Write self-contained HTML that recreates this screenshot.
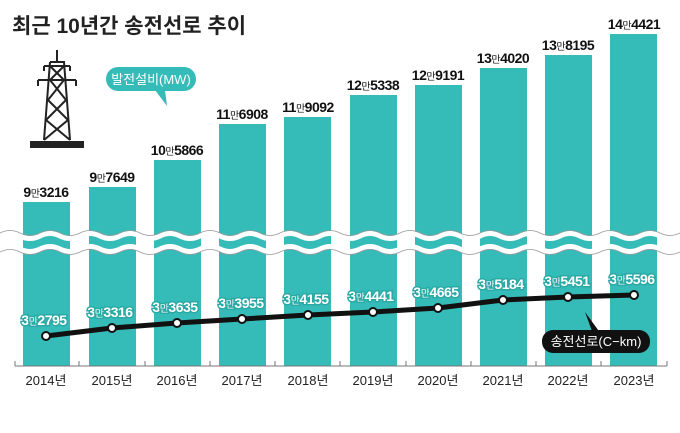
<!DOCTYPE html><html><head><meta charset="utf-8"><style>
body{margin:0;background:#fff}
svg text{font-family:"Liberation Sans","Noto Sans CJK KR",sans-serif}
</style></head><body>
<svg width="680" height="428" viewBox="0 0 680 428" xmlns="http://www.w3.org/2000/svg">
<rect width="680" height="428" fill="#fff"/>
<text x="12" y="33" font-size="21" font-weight="bold" fill="#222">최근 10년간 송전선로 추이</text>
<!-- tower -->
<g stroke="#222" stroke-width="2" fill="none">
<line x1="57" y1="50" x2="57" y2="62"/>
<path d="M50 62 L64 62 L70 140 M50 62 L44 140"/>
<path d="M44 66 L70 66 M38 80 L76 80"/>
<path d="M50 66 L64 80 M64 66 L50 80 M50 80 L66 100 M64 80 L48 100 M48 100 L68 120 M66 100 L46 120 M46 120 L70 140 M68 120 L44 140"/>
<line x1="44" y1="66" x2="44" y2="71"/><line x1="70" y1="66" x2="70" y2="71"/>
<line x1="38" y1="80" x2="38" y2="86"/><line x1="76" y1="80" x2="76" y2="86"/>
</g>
<rect x="30" y="141" width="54" height="7" fill="#222"/>
<!-- bars -->
<g fill="#36bcb8">
<rect x="23" y="202" width="47" height="164"/>
<rect x="89" y="187" width="47" height="179"/>
<rect x="154" y="160" width="47" height="206"/>
<rect x="219" y="124" width="47" height="242"/>
<rect x="284" y="117" width="47" height="249"/>
<rect x="350" y="95" width="47" height="271"/>
<rect x="415" y="85" width="47" height="281"/>
<rect x="480" y="68" width="47" height="298"/>
<rect x="545" y="55" width="47" height="311"/>
<rect x="610" y="34" width="47" height="332"/>
</g>
<g font-size="14" font-weight="bold" fill="#111" text-anchor="middle" letter-spacing="-0.5">
<text x="46" y="197">9<tspan font-size="10" font-weight="normal">만</tspan>3216</text>
<text x="112" y="182">9<tspan font-size="10" font-weight="normal">만</tspan>7649</text>
<text x="177" y="155">10<tspan font-size="10" font-weight="normal">만</tspan>5866</text>
<text x="242" y="119">11<tspan font-size="10" font-weight="normal">만</tspan>6908</text>
<text x="308" y="112">11<tspan font-size="10" font-weight="normal">만</tspan>9092</text>
<text x="373" y="90">12<tspan font-size="10" font-weight="normal">만</tspan>5338</text>
<text x="438" y="80">12<tspan font-size="10" font-weight="normal">만</tspan>9191</text>
<text x="503" y="63">13<tspan font-size="10" font-weight="normal">만</tspan>4020</text>
<text x="568" y="50">13<tspan font-size="10" font-weight="normal">만</tspan>8195</text>
<text x="634" y="29">14<tspan font-size="10" font-weight="normal">만</tspan>4421</text>
</g>
<!-- bubble -->
<rect x="106" y="67" width="90" height="24" rx="12" fill="#36bcb8"/>
<path d="M155 90 L167 106 L165 90 Z" fill="#36bcb8"/>
<text x="151" y="84" font-size="13" fill="#fff" text-anchor="middle">발전설비(MW)</text>
<!-- break -->
<g fill="none" stroke-linecap="round">
<path d="M0 236 q10 -5 20 0 t20 0 t20 0 t20 0 t20 0 t20 0 t20 0 t20 0 t20 0 t20 0 t20 0 t20 0 t20 0 t20 0 t20 0 t20 0 t20 0 t20 0 t20 0 t20 0 t20 0 t20 0 t20 0 t20 0 t20 0 t20 0 t20 0 t20 0 t20 0 t20 0 t20 0 t20 0 t20 0 t20 0" stroke="#fff" stroke-width="5"/>
<path d="M0 249 q10 -5 20 0 t20 0 t20 0 t20 0 t20 0 t20 0 t20 0 t20 0 t20 0 t20 0 t20 0 t20 0 t20 0 t20 0 t20 0 t20 0 t20 0 t20 0 t20 0 t20 0 t20 0 t20 0 t20 0 t20 0 t20 0 t20 0 t20 0 t20 0 t20 0 t20 0 t20 0 t20 0 t20 0 t20 0" stroke="#fff" stroke-width="5"/>
<path d="M0 233 q10 -5 20 0 t20 0 t20 0 t20 0 t20 0 t20 0 t20 0 t20 0 t20 0 t20 0 t20 0 t20 0 t20 0 t20 0 t20 0 t20 0 t20 0 t20 0 t20 0 t20 0 t20 0 t20 0 t20 0 t20 0 t20 0 t20 0 t20 0 t20 0 t20 0 t20 0 t20 0 t20 0 t20 0 t20 0" stroke="#999" stroke-width="0.7"/>
<path d="M0 252 q10 -5 20 0 t20 0 t20 0 t20 0 t20 0 t20 0 t20 0 t20 0 t20 0 t20 0 t20 0 t20 0 t20 0 t20 0 t20 0 t20 0 t20 0 t20 0 t20 0 t20 0 t20 0 t20 0 t20 0 t20 0 t20 0 t20 0 t20 0 t20 0 t20 0 t20 0 t20 0 t20 0 t20 0 t20 0" stroke="#999" stroke-width="0.7"/>
</g>
<!-- axis -->
<g stroke="#777" stroke-width="1">
<line x1="15" y1="366" x2="667" y2="366"/>
<line x1="15" y1="361" x2="15" y2="366"/><line x1="79" y1="361" x2="79" y2="366"/><line x1="145" y1="361" x2="145" y2="366"/><line x1="210" y1="361" x2="210" y2="366"/><line x1="275" y1="361" x2="275" y2="366"/><line x1="340" y1="361" x2="340" y2="366"/><line x1="406" y1="361" x2="406" y2="366"/><line x1="471" y1="361" x2="471" y2="366"/><line x1="536" y1="361" x2="536" y2="366"/><line x1="601" y1="361" x2="601" y2="366"/><line x1="667" y1="361" x2="667" y2="366"/>
</g>
<g font-size="13" fill="#222" text-anchor="middle">
<text x="46" y="385">2014년</text><text x="112" y="385">2015년</text><text x="177" y="385">2016년</text><text x="242" y="385">2017년</text><text x="308" y="385">2018년</text><text x="373" y="385">2019년</text><text x="438" y="385">2020년</text><text x="503" y="385">2021년</text><text x="568" y="385">2022년</text><text x="634" y="385">2023년</text>
</g>
<!-- line -->
<polyline points="46,336 112,328 177,323 242,319 308,315 373,312 438,308 503,300 568,297 634,295" fill="none" stroke="#111" stroke-width="5" stroke-linejoin="round"/>
<g fill="#fff" stroke="#111" stroke-width="2">
<circle cx="46" cy="336" r="4"/><circle cx="112" cy="328" r="4"/><circle cx="177" cy="323" r="4"/><circle cx="242" cy="319" r="4"/><circle cx="308" cy="315" r="4"/><circle cx="373" cy="312" r="4"/><circle cx="438" cy="308" r="4"/><circle cx="503" cy="300" r="4"/><circle cx="568" cy="297" r="4"/><circle cx="634" cy="295" r="4"/>
</g>
<g font-size="14" font-weight="bold" text-anchor="middle" letter-spacing="-0.5" fill="#fff" stroke="#2aa9a5" stroke-width="3" paint-order="stroke">
<text x="44" y="325">3<tspan font-size="10" font-weight="normal">만</tspan>2795</text>
<text x="110" y="317">3<tspan font-size="10" font-weight="normal">만</tspan>3316</text>
<text x="175" y="312">3<tspan font-size="10" font-weight="normal">만</tspan>3635</text>
<text x="241" y="308">3<tspan font-size="10" font-weight="normal">만</tspan>3955</text>
<text x="306" y="304">3<tspan font-size="10" font-weight="normal">만</tspan>4155</text>
<text x="371" y="301">3<tspan font-size="10" font-weight="normal">만</tspan>4441</text>
<text x="436" y="297">3<tspan font-size="10" font-weight="normal">만</tspan>4665</text>
<text x="501" y="289">3<tspan font-size="10" font-weight="normal">만</tspan>5184</text>
<text x="567" y="286">3<tspan font-size="10" font-weight="normal">만</tspan>5451</text>
<text x="632" y="284">3<tspan font-size="10" font-weight="normal">만</tspan>5596</text>
</g>
<!-- legend bubble -->
<path d="M585 312 L601 334 L593 334 Z" fill="#111"/>
<rect x="542" y="330" width="108" height="23" rx="11" fill="#111"/>
<text x="596" y="346" font-size="13" fill="#fff" text-anchor="middle">송전선로(C−km)</text>
</svg>
</body></html>
